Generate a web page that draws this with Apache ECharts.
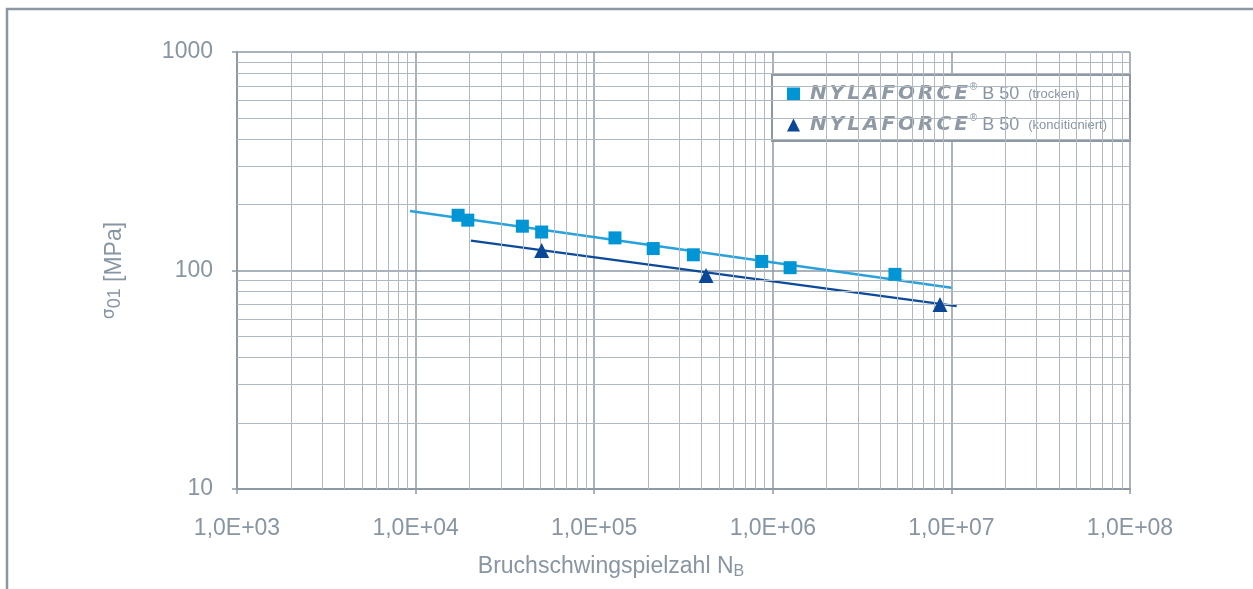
<!DOCTYPE html>
<html><head><meta charset="utf-8">
<script src="https://cdn.jsdelivr.net/npm/echarts@6/dist/echarts.min.js"></script>
<style>html,body{margin:0;padding:0;background:#fff}#c{width:1253px;height:589px}</style>
</head><body><div id="c"></div>
<script>
// ---- data ----
const xTickLabels = ['1,0E+03','1,0E+04','1,0E+05','1,0E+06','1,0E+07','1,0E+08'];
const yTickLabels = ['10','100','1000'];
const seriesNames = ['trocken', 'konditioniert'];
const brand = 'NYLAFORCE';
const dryN = [17300, 19600, 39600, 50800, 130700, 214000, 359000, 867000, 1250000, 4830000];
const dryS = [179, 170, 159.5, 150, 141, 126, 118, 110, 103, 96];
const condN = [50800, 423000, 8630000];
const condS = [123.5, 94.9, 69.9];
const dryFitN = [9300, 10000000];
const dryFitS = [187, 83.3];
const condFitN = [20400, 10700000];
const condFitS = [137, 68.7];

// ---- helpers ----
const FONT = '"Liberation Sans", Arial, sans-serif';
const TXT = '#8895a2';
const GRID = '#8e99a4';
const zip = (a, b) => a.map((v, i) => [v, b[i]]);
const minorX = [], minorY = [];
for (let e = 3; e < 8; e++) for (let m = 2; m <= 9; m++) minorX.push(m * Math.pow(10, e));
for (let e = 1; e < 3; e++) for (let m = 2; m <= 9; m++) minorY.push(m * Math.pow(10, e));
const idx = v => Math.round(Math.log10(v));
const brandRich = brand.split('').map((ch, i) => '{' + (i === 0 ? 'b0' : (i === brand.length - 1 ? 'bl' : 'b')) + '|' + ch + '}').join('');
const brandStyle = {fontFamily: '"DejaVu Sans", sans-serif', fontWeight: 'bold', fontStyle: 'italic', fontSize: 20, color: '#8e99a4', lineHeight: 24};

const chart = echarts.init(document.getElementById('c'), null, {renderer: 'canvas'});
chart.setOption({
  animation: false,
  backgroundColor: '#fff',
  graphic: [{
    type: 'rect', silent: true, z: -10,
    shape: {x: 7, y: 9, width: 1300, height: 700},
    style: {fill: 'none', stroke: '#8c97a2', lineWidth: 2.5}
  }],
  grid: {left: 237, right: 123, top: 52, bottom: 100},
  legend: {
    orient: 'vertical', left: 772, top: 75,
    data: [{name: 'trocken', icon: 'rect'}, {name: 'konditioniert', icon: 'triangle'}],
    itemWidth: 13, itemHeight: 13, itemGap: 9,
    padding: [7, 23, 6, 15],
    backgroundColor: '#fff', borderColor: GRID, borderWidth: 2,
    formatter: n => brandRich + '{r|®}{n| B 50}{s|(' + n + ')}',
    textStyle: {
      color: TXT, fontFamily: FONT,
      rich: {
        b0: Object.assign({}, brandStyle, {padding: [0, 3, 0, 5]}),
        b: Object.assign({}, brandStyle, {padding: [0, 3, 0, 0]}),
        bl: Object.assign({}, brandStyle, {padding: [0, 1, 0, 0]}),
        r: {fontFamily: FONT, fontSize: 10, color: TXT, verticalAlign: 'top', lineHeight: 14, padding: [0, 0, 0, 1]},
        n: {fontFamily: FONT, fontSize: 18, color: TXT, lineHeight: 24},
        s: {fontFamily: FONT, fontSize: 13, color: TXT, lineHeight: 24, padding: [0, 0, 0, 9]}
      }
    }
  },
  xAxis: {
    type: 'log', logBase: 10, min: 1e3, max: 1e8,
    name: '{m|Bruchschwingspielzahl N}{sub|B}',
    nameLocation: 'middle', nameGap: 65,
    nameTextStyle: {
      padding: [0, 145, 0, 0],
      rich: {
        m: {fontFamily: FONT, fontSize: 23, color: TXT, lineHeight: 26},
        sub: {fontFamily: FONT, fontSize: 16, color: TXT, lineHeight: 12, verticalAlign: 'bottom'}
      }
    },
    axisLine: {lineStyle: {color: GRID, width: 2}},
    axisTick: {show: true, length: 5, inside: false, lineStyle: {color: GRID, width: 1.5}},
    axisLabel: {
      margin: 28, color: TXT, fontFamily: FONT, fontSize: 23,
      formatter: v => xTickLabels[idx(v) - 3]
    },
    splitLine: {show: true, lineStyle: {color: GRID, width: 1.5}},
    minorTick: {show: false}, minorSplitLine: {show: false}
  },
  yAxis: {
    type: 'log', logBase: 10, min: 10, max: 1000,
    name: '{g|σ}{sub|01}{m| [MPa]}',
    nameLocation: 'middle', nameGap: 108, nameRotate: 90,
    nameTextStyle: {
      rich: {
        g: {fontFamily: '"DejaVu Sans", sans-serif', fontSize: 17, color: TXT, lineHeight: 12, verticalAlign: 'top'},
        sub: {fontFamily: FONT, fontSize: 18, color: TXT, lineHeight: 28},
        m: {fontFamily: FONT, fontSize: 23, color: TXT, lineHeight: 28}
      }
    },
    axisLine: {lineStyle: {color: GRID, width: 2}},
    axisTick: {show: true, length: 5, inside: false, lineStyle: {color: GRID, width: 1.5}},
    axisLabel: {
      margin: 24, color: TXT, fontFamily: FONT, fontSize: 23,
      formatter: v => yTickLabels[idx(v) - 1]
    },
    splitLine: {show: true, lineStyle: {color: GRID, width: 1.5}},
    minorTick: {show: false}, minorSplitLine: {show: false}
  },
  series: [
    {
      type: 'line', name: 'minorGrid', data: [], z: 0, silent: true,
      markLine: {
        silent: true, symbol: ['none', 'none'], animation: false,
        label: {show: false},
        lineStyle: {color: '#b0b8c0', width: 1, type: 'solid'},
        emphasis: {disabled: true},
        data: minorX.map(v => ({xAxis: v})).concat(minorY.map(v => ({yAxis: v})))
      }
    },
    {
      type: 'line', name: 'fitDry', data: zip(dryFitN, dryFitS), showSymbol: false, z: 3,
      lineStyle: {color: '#29a2dc', width: 2.5}, silent: true
    },
    {
      type: 'line', name: 'fitCond', data: zip(condFitN, condFitS), showSymbol: false, z: 3,
      lineStyle: {color: '#0c4a9a', width: 2.5}, silent: true
    },
    {
      type: 'scatter', name: seriesNames[0], data: zip(dryN, dryS), z: 5,
      symbol: 'rect', symbolSize: 13, itemStyle: {color: '#0095d5', opacity: 1}
    },
    {
      type: 'scatter', name: seriesNames[1], data: zip(condN, condS), z: 5,
      symbol: 'triangle', symbolSize: 15, itemStyle: {color: '#0a4796', opacity: 1}
    }
  ]
});
</script>
</body></html>
